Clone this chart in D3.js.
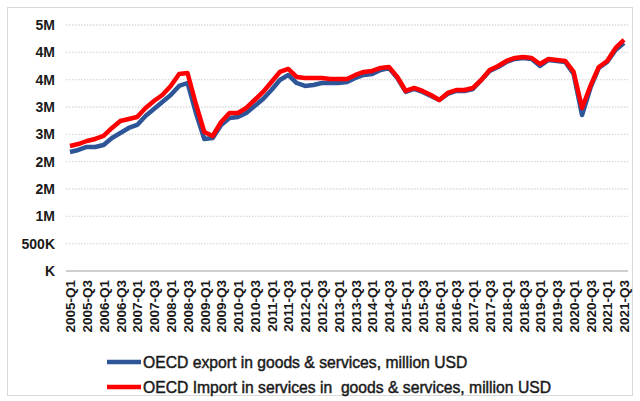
<!DOCTYPE html>
<html>
<head>
<meta charset="utf-8">
<script src="https://cdn.jsdelivr.net/npm/d3@7"></script>
<style>
body { margin: 0; background: #fff; }
.axisClass text { font-family: "Liberation Sans", Arial, sans-serif; font-weight: bold; fill: #1a1a1a; }
.legendText { font-family: "Liberation Sans", Arial, sans-serif; font-size: 15.7px; fill: #1a1a1a; stroke: #1a1a1a; stroke-width: 0.45px; white-space: pre; }
</style>
</head>
<body>
<div id="line"></div>
<script>

// quarters 2005-Q1 .. 2021-Q3
const years = d3.range(2005, 2022)
const quarters = []
years.forEach(y => ["Q1", "Q2", "Q3", "Q4"].forEach(q => quarters.push(`${y}-${q}`)))
quarters.splice(quarters.indexOf("2021-Q4"), 1)

// million USD
const exportVals = [2177000, 2214000, 2269000, 2269000, 2305000, 2433000, 2525000, 2616000, 2671000, 2836000,
    2964000, 3092000, 3220000, 3385000, 3439000, 2891000, 2415000, 2433000, 2671000, 2799000,
    2817000, 2891000, 3019000, 3147000, 3311000, 3494000, 3586000, 3439000, 3385000, 3403000,
    3439000, 3439000, 3439000, 3458000, 3531000, 3586000, 3604000, 3677000, 3714000, 3531000,
    3275000, 3330000, 3275000, 3202000, 3128000, 3238000, 3293000, 3293000, 3330000, 3494000,
    3659000, 3732000, 3824000, 3879000, 3897000, 3879000, 3750000, 3860000, 3842000, 3824000,
    3604000, 2854000, 3348000, 3714000, 3824000, 4043000, 4171000]

const importVals = [2287000, 2323000, 2378000, 2415000, 2470000, 2616000, 2744000, 2781000, 2817000, 2982000,
    3110000, 3220000, 3385000, 3604000, 3622000, 3055000, 2543000, 2470000, 2726000, 2891000,
    2891000, 2982000, 3128000, 3275000, 3458000, 3641000, 3696000, 3549000, 3531000, 3531000,
    3531000, 3513000, 3513000, 3513000, 3586000, 3641000, 3659000, 3714000, 3732000, 3549000,
    3293000, 3348000, 3293000, 3220000, 3128000, 3257000, 3311000, 3311000, 3348000, 3494000,
    3677000, 3750000, 3842000, 3897000, 3915000, 3897000, 3787000, 3879000, 3860000, 3842000,
    3641000, 2982000, 3385000, 3732000, 3842000, 4080000, 4226000]

const yTicks = [0, 500000, 1000000, 1500000, 2000000, 2500000, 3000000, 3500000, 4000000, 4500000]
const yTickLabels = ["K", "500K", "1M", "2M", "2M", "3M", "3M", "4M", "4M", "5M"]

const seriesNames = ["OECD export in goods & services, million USD",
    "OECD Import in services in  goods & services, million USD"]
const seriesColors = ["#2e5597", "#ff0000"]

const width = 640
const height = 401

const lineScaleX = d3.scalePoint().domain(quarters).range([70, 624])
const lineScaleY = d3.scaleLinear().domain([0, 4500000]).range([271, 25])

const lineSvg = d3.select('#line').append('svg').attr("height", height).attr("width", width)

// outer frame
lineSvg.append('rect')
    .attr("x", 7.5).attr("y", 7.5)
    .attr("width", 625).attr("height", 388)
    .attr("fill", "#fff").attr("stroke", "#d9d9d9").attr("stroke-width", 1)

// dotted gridlines
lineSvg.append('g')
    .selectAll('line')
    .data(yTicks.filter(d => d > 0))
    .enter()
    .append('line')
    .attr("x1", 66).attr("x2", 628)
    .attr("y1", d => lineScaleY(d)).attr("y2", d => lineScaleY(d))
    .attr("stroke", "#d9d9d9").attr("stroke-width", 1.3)
    .attr("stroke-dasharray", "1.5 1.5")

// baseline
lineSvg.append('line')
    .attr("x1", 66).attr("x2", 628)
    .attr("y1", lineScaleY(0)).attr("y2", lineScaleY(0))
    .attr("stroke", "#bfbfbf").attr("stroke-width", 1.5)

const axisLeft = d3.axisLeft(lineScaleY).tickValues(yTicks).tickSize(0).tickPadding(0)
    .tickFormat((d, i) => yTickLabels[i])

lineSvg.append('g')
    .attr("transform", "translate(55,0)")
    .attr('class', "axisClass")
    .call(axisLeft)
    .call(g => g.select(".domain").remove())
    .selectAll("text").style("font-size", "14px")

const axisBottom = d3.axisBottom(lineScaleX).tickValues(quarters.filter((d, i) => i % 2 == 0)).tickSize(0)

lineSvg.append('g')
    .attr("transform", `translate(0,${lineScaleY(0)})`)
    .attr('class', "axisClass")
    .call(axisBottom)
    .call(g => g.select(".domain").remove())
    .selectAll("text")
    .style("font-size", "13.5px")
    .attr("transform", "rotate(-90)")
    .attr("text-anchor", "end")
    .attr("x", -9).attr("y", 0).attr("dy", "0.35em")

const lineGenerator = d3.line()
    .x((d, i) => lineScaleX(quarters[i]))
    .y(d => lineScaleY(d))

;[exportVals, importVals].forEach(function (vals, k) {
    lineSvg.append('path')
        .datum(vals)
        .attr("d", lineGenerator)
        .attr("fill", "none")
        .attr("stroke", seriesColors[k])
        .attr("stroke-width", 4.5)
        .attr("stroke-linejoin", "round")
})

// legend
const legend = lineSvg.append('g').selectAll('g')
    .data(seriesNames)
    .enter()
    .append('g')
    .attr("transform", (d, i) => `translate(107,${362 + i * 25})`)

legend.append('line')
    .attr("x1", 0).attr("x2", 34)
    .attr("stroke", (d, i) => seriesColors[i])
    .attr("stroke-width", 4.5)

legend.append('text')
    .attr("class", "legendText")
    .attr("x", 36).attr("dy", "0.35em")
    .text(d => d)

</script>
</body>
</html>
